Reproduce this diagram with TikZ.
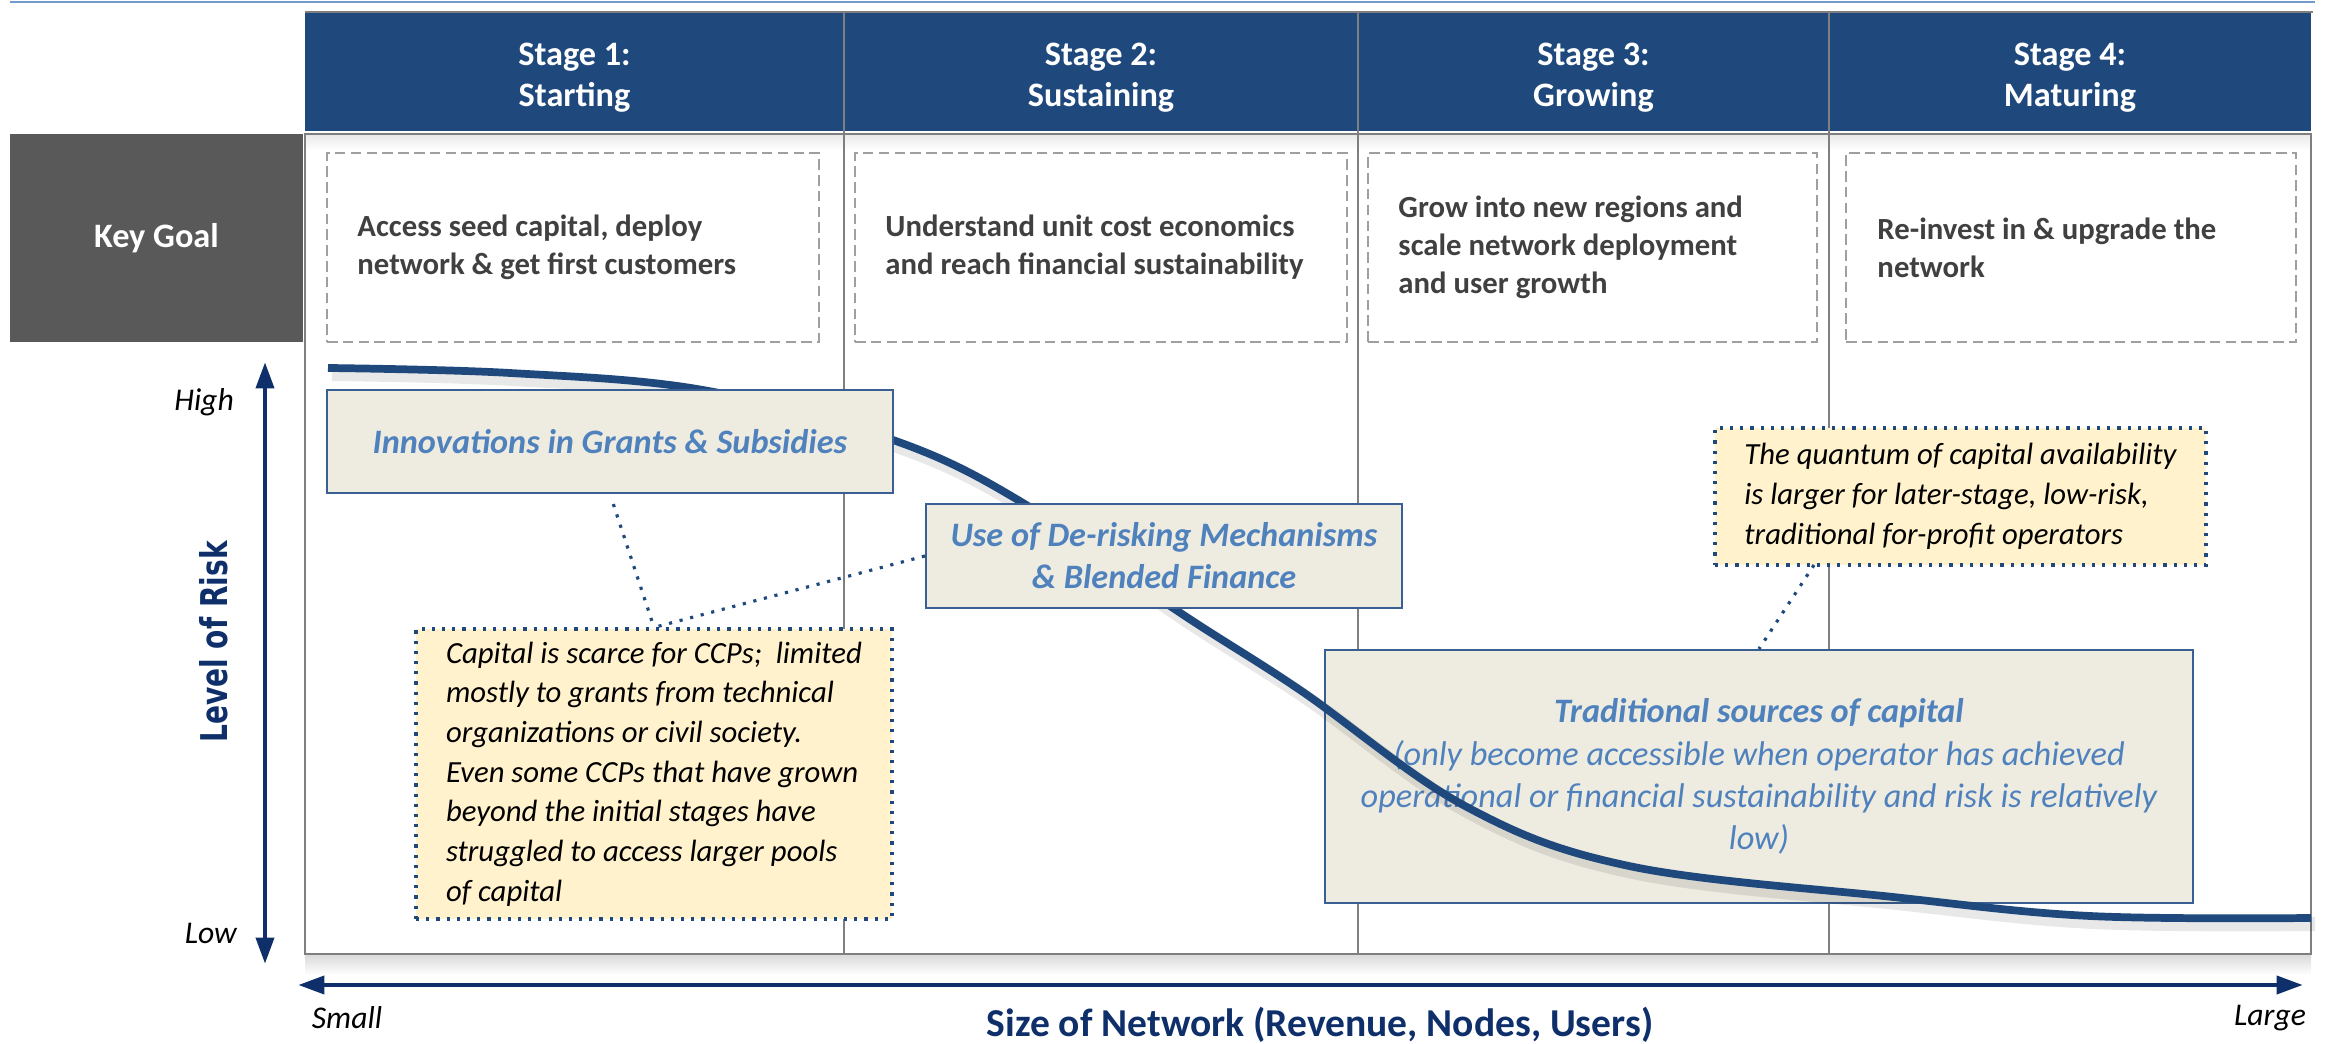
\documentclass[tikz,border=0pt]{standalone}
\usepackage{fontspec}
\usepackage{graphicx}
\setmainfont{Carlito}
\newfontfamily\riskfont{DejaVu Sans}
\usetikzlibrary{arrows.meta}
\definecolor{entete}{HTML}{1F497D}
\definecolor{marine}{HTML}{0E2F69}
\definecolor{grisfonce}{HTML}{595959}
\definecolor{textegris}{HTML}{404040}
\definecolor{beige}{HTML}{EEECE1}
\definecolor{bordbleu}{HTML}{3A5F93}
\definecolor{bleutexte}{HTML}{4F81BD}
\definecolor{jaune}{HTML}{FFF2CC}
\definecolor{trait}{HTML}{7F7F7F}
\tikzset{
  etape/.style={text=white,font=\fontsize{19.5}{23}\selectfont\bfseries,align=center},
  but/.style={draw=gray!75,dash pattern=on 6pt off 3pt,line width=1pt,minimum height=3.78cm},
  butxt/.style={anchor=west,align=left,inner sep=0pt,text=textegris,font=\fontsize{17.5}{21.6}\selectfont\bfseries},
  levier/.style={draw=bordbleu,fill=beige,line width=1.2pt,text=bleutexte,font=\fontsize{19.5}{24}\selectfont\bfseries\itshape,align=center,inner sep=0pt},
  note/.style={draw=entete,fill=jaune,line width=1.8pt,dash pattern=on 1.8pt off 4pt,font=\fontsize{17.5}{22.6}\selectfont\itshape,align=left,inner sep=0pt},
  pointille/.style={draw=entete,line width=1.8pt,dash pattern=on 1.8pt off 4.4pt},
  axe/.style={marine,line width=2.8pt,{Triangle[length=15pt,width=10pt]}-{Triangle[length=15pt,width=10pt]}},
  borne/.style={font=\fontsize{18}{20}\selectfont\itshape},
}
\begin{document}
\begin{tikzpicture}[x=2cm,y=2cm]%
\useasboundingbox (0,0) rectangle (23.33,10.43);%%
%%CADRE
\draw[bleutexte!80,line width=1.2pt] (0.10,10.41) -- (23.15,10.41);%%
\fill[entete] (3.05,9.12) rectangle (23.11,10.31);%%
\draw[trait,line width=1.2pt] (3.05,10.31) -- (23.13,10.31);%%
\shade[top color=gray!18,bottom color=white] (3.06,8.93) rectangle (23.10,9.09);%%
\shade[top color=gray!30,bottom color=white] (3.05,0.68) rectangle (23.11,0.89);%%
\draw[trait,line width=1.2pt] (3.05,0.89) rectangle (23.11,9.09);%%
\foreach \x in {8.44,13.58,18.29}
  \draw[trait,line width=1.2pt] (\x,0.89) -- (\x,10.31);%%
%%ETAPES
\node[etape] (s1) at (5.745,9.655) {Stage 1:\\Starting};%%
\node[etape] (s2) at (11.01,9.655) {Stage 2:\\Sustaining};%%
\node[etape] (s3) at (15.935,9.655) {Stage 3:\\Growing};%%
\node[etape] (s4) at (20.70,9.655) {Stage 4:\\Maturing};%%
%%OBJECTIFS
\node[etape,fill=grisfonce,minimum width=5.86cm,minimum height=4.16cm] (kg) at (1.565,8.05) {Key Goal};%%
\node[but,minimum width=9.84cm] (g1) at (5.73,7.955) {};%%
\node[but,minimum width=9.84cm] (g2) at (11.01,7.955) {};%%
\node[but,minimum width=8.98cm] (g3) at (15.925,7.955) {};%%
\node[but,minimum width=9.0cm] (g4) at (20.71,7.955) {};%%
\node[butxt] (t1) at ([xshift=0.62cm]g1.west) {Access seed capital, deploy\\network \& get first customers};%%
\node[butxt] (t2) at ([xshift=0.62cm]g2.west) {Understand unit cost economics\\and reach financial sustainability};%%
\node[butxt] (t3) at ([xshift=0.62cm]g3.west) {Grow into new regions and\\scale network deployment\\and user growth};%%
\node[butxt] (t4) at ([xshift=0.64cm]g4.west) {Re-invest in \& upgrade the\\network};%%
%%AXES
\coordinate (haut) at (2.65,6.81);%%
\coordinate (bas) at (2.65,0.79);%%
\draw[axe] (bas) -- (haut);%%
\coordinate (gauche) at (2.98,0.58);%%
\coordinate (droite) at (23.03,0.58);%%
\draw[axe] (gauche) -- (droite);%%
\node[borne,anchor=east] (high) at (2.40,6.41) {High};%%
\node[borne,anchor=east] (low) at (2.43,1.10) {Low};%%
\node[borne] (small) at (3.47,0.25) {Small};%%
\node[borne] (large) at (22.70,0.25) {Large};%%
\node[text=marine,font=\fontsize{22.5}{24}\selectfont\bfseries] (taille) at (13.20,0.18) {Size of Network (Revenue, Nodes, Users)};%%
\node[rotate=90,text=marine] (risque) at (2.14,4.01) {\scalebox{0.76}[1]{\riskfont\fontsize{21}{24}\selectfont\bfseries Level of Risk}};%%
%%FINANCEMENT TRADITIONNEL
\node[levier,minimum width=17.36cm,minimum height=5.06cm] (trad) at (17.59,2.665) {Traditional sources of capital\\{\mdseries (only become accessible when operator has achieved}\\{\mdseries operational or financial sustainability and risk is relatively}\\{\mdseries low)}};%%
%%COURBE
\draw[black,opacity=0.09,line width=8pt,shift={(0.04,-0.06)}] plot[smooth,tension=0.6] coordinates {(3.28,6.75) (5.10,6.70) (7.03,6.53) (8.93,6.03) (10.23,5.40) (11.73,4.35) (13.0,3.53) (14.65,2.37) (16.29,1.77) (18.93,1.46) (20.90,1.27) (23.11,1.25)};%%
\draw[entete,line width=4.4pt] plot[smooth,tension=0.6] coordinates {(3.28,6.75) (5.10,6.70) (7.03,6.53) (8.93,6.03) (10.23,5.40) (11.73,4.35) (13.0,3.53) (14.65,2.37) (16.29,1.77) (18.93,1.46) (20.90,1.27) (23.11,1.25)};%%
%%LEVIERS
\node[levier,minimum width=11.32cm,minimum height=2.06cm] (innov) at (6.10,6.015) {Innovations in Grants \& Subsidies};%%
\node[levier,minimum width=9.52cm,minimum height=2.08cm] (derisk) at (11.64,4.87) {Use of De-risking Mechanisms\\\& Blended Finance};%%
%%NOTES
\node[note,minimum width=9.52cm,minimum height=5.80cm] (capnote) at (6.54,2.69) {Capital is scarce for CCPs;~ limited\\mostly to grants from technical\\organizations or civil society.\\Even some CCPs that have grown\\beyond the initial stages have\\struggled to access larger pools\\of capital};%%
\node[note,minimum width=9.82cm,minimum height=2.74cm] (qnote) at (19.605,5.465) {The quantum of capital availability\\is larger for later-stage, low-risk,\\traditional for-profit operators};%%
%%LIENS
\draw[pointille,shorten <=6pt] (innov.south) -- (capnote.north);%%
\draw[pointille] (derisk.west) -- (capnote.north);%%
\coordinate (qpied) at (18.14,4.78);%%
\draw[pointille] (qpied) -- (trad.north);%%
\end{tikzpicture}
\end{document}
